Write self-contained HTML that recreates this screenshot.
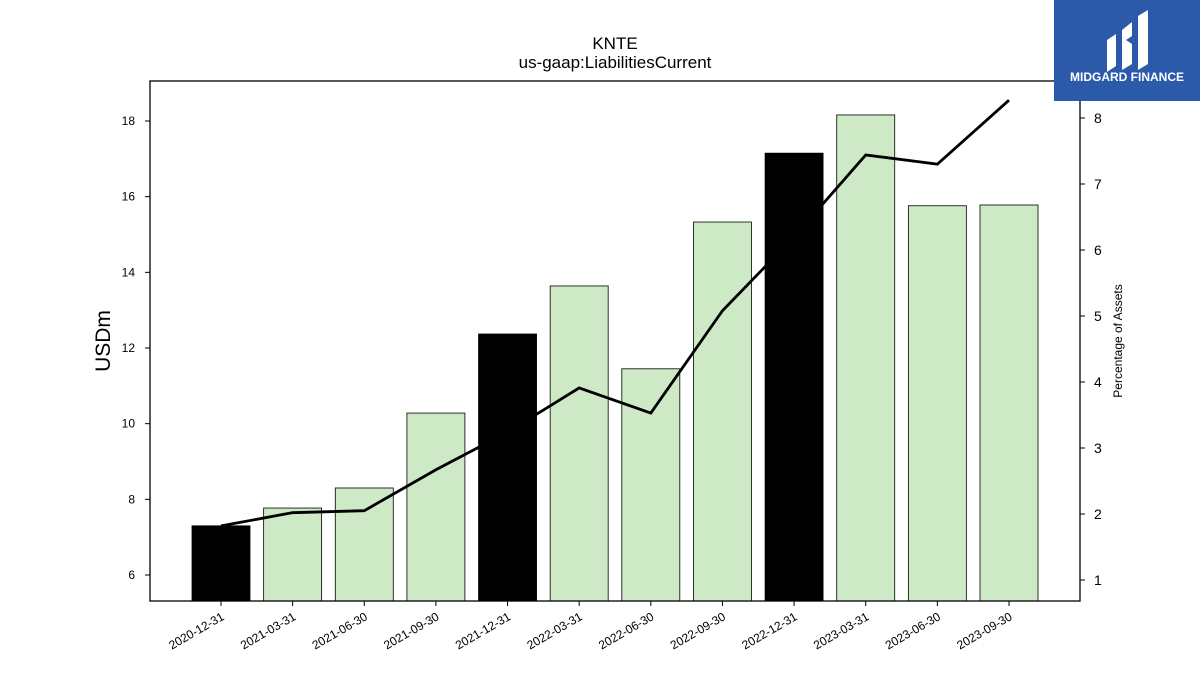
<!DOCTYPE html>
<html><head><meta charset="utf-8"><style>
body{margin:0;background:#fff;}
svg text{font-family:"Liberation Sans","DejaVu Sans",sans-serif;}
</style></head><body>
<svg width="1200" height="675" xmlns="http://www.w3.org/2000/svg">
<rect width="1200" height="675" fill="#fff"/>
<text x="615" y="49" text-anchor="middle" font-size="17">KNTE</text>
<text x="615" y="68" text-anchor="middle" font-size="17">us-gaap:LiabilitiesCurrent</text>
<g id="bars"></g>
<g id="line"></g>
<g id="axes"></g>
<rect x="150" y="81" width="930" height="520" fill="none" stroke="#000" stroke-width="1.3"/>
<text transform="translate(110,341) rotate(-90)" text-anchor="middle" font-size="21">USDm</text>
<text transform="translate(1122,341) rotate(-90)" text-anchor="middle" font-size="12">Percentage of Assets</text>
<g>
<rect x="1054" y="0" width="146" height="101" fill="#2b5aab"/>
<path d="M1107 40 L1116 34 L1116 66 L1107 72 Z M1122 30 L1132 22 L1132 36 L1126 40 L1132 44 L1132 64 L1122 70 Z M1138 16 L1148 10 L1148 64 L1138 70 Z" fill="#fff"/>
<text x="1127" y="81" text-anchor="middle" font-size="12" font-weight="bold" fill="#fff">MIDGARD FINANCE</text>
</g>
</svg>
<script>
const categories=["2020-12-31","2021-03-31","2021-06-30","2021-09-30","2021-12-31","2022-03-31","2022-06-30","2022-09-30","2022-12-31","2023-03-31","2023-06-30","2023-09-30"];
const liabilities=[7.30,7.77,8.30,10.28,12.37,13.64,11.45,15.33,17.15,18.16,15.76,15.78];
const pctAssets=[1.82,2.02,2.05,2.67,3.24,3.91,3.53,5.08,6.2,7.44,7.30,8.27];
const leftTicks=[6,8,10,12,14,16,18];
const rightTicks=[1,2,3,4,5,6,7,8];
const NS="http://www.w3.org/2000/svg";
const yL=v=>575-(v-6)*37.833;
const yR=v=>580-(v-1)*66;
const xC=i=>221+i*71.636;
const bottom=601;
function mk(tag,attrs,parent){const e=document.createElementNS(NS,tag);for(const k in attrs)e.setAttribute(k,attrs[k]);parent.appendChild(e);return e;}
const bars=document.getElementById('bars'),line=document.getElementById('line'),axes=document.getElementById('axes');
categories.forEach((c,i)=>{
  const q4=c.endsWith('12-31');
  const y=yL(liabilities[i]);
  const r=mk('rect',{x:xC(i)-29,y:y,width:58,height:bottom-y,fill:q4?'#000':'#cde9c6',stroke:'#000','stroke-width':0.8},bars);
  
  
  mk('line',{x1:xC(i),x2:xC(i),y1:bottom,y2:bottom+5,stroke:'#000'},axes);
  const t=mk('text',{transform:`translate(${xC(i)+4},${bottom+18}) rotate(-30)`,'text-anchor':'end','font-size':12},axes);
  t.textContent=c;
  
  
});
const pts=pctAssets.map((v,i)=>xC(i)+','+yR(v)).join(' ');
const pl=mk('polyline',{points:pts,fill:'none',stroke:'#000','stroke-width':2.8},line);


leftTicks.forEach(v=>{
  mk('line',{x1:145,x2:150,y1:yL(v),y2:yL(v),stroke:'#000'},axes);
  const t=mk('text',{x:135,y:yL(v)+4,'text-anchor':'end','font-size':12},axes);
  t.textContent=v;
  
  
});
rightTicks.forEach(v=>{
  mk('line',{x1:1080,x2:1085,y1:yR(v),y2:yR(v),stroke:'#000'},axes);
  const t=mk('text',{x:1094,y:yR(v)+5,'text-anchor':'start','font-size':14},axes);
  t.textContent=v;
  
  
});
</script>
</body></html>
